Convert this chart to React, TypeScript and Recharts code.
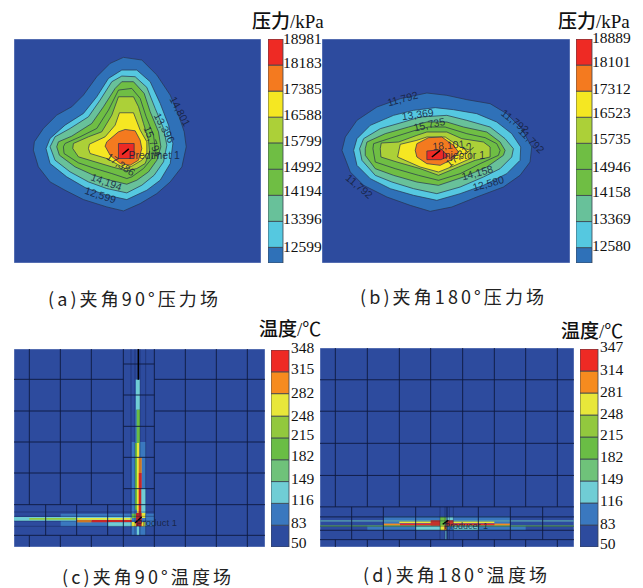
import React from "react";
import { ScatterChart, Scatter, XAxis, YAxis, BarChart, Bar } from "recharts";

type Pt = [number, number];
type Label = { x: number; y: number; text: string; angle: number; size?: number };

const pressureColors = ["#2f71b8", "#55c8e0", "#68c19a", "#6fbe44", "#6fbe44", "#acd038", "#f5e722", "#f47a1f", "#ee2a24"];
const tempColors = ["#2d4b9e", "#3a78bf", "#70cdd5", "#6fc27a", "#6abd45", "#92c83e", "#e8e73a", "#f68b1f", "#ee2a24"];
const BG = "#2d4b9e";

const ticksA = [12599, 13396, 14194, 14992, 15799, 16588, 17385, 18183, 18981];
const ticksB = [12580, 13369, 14158, 14946, 15735, 16523, 17312, 18101, 18889];
const ticksC = [50, 83, 116, 149, 182, 215, 248, 282, 315, 348];
const ticksD = [50, 83, 116, 149, 182, 215, 248, 281, 314, 347];
const nudgeA = [1, -1, -3, -1, 0, -1, -1, -1, 1];
const nudgeB = [0, -1, -2, -1, -3, -3, -1, -2, 0];
const nudgeC = [-3, -1, -2, -1, -2, -1, 1, 1, -1, -1];
const nudgeD = [-2, 0, -1, -1, -1, -1, 0, 0, 0, -1];

const contoursA: Pt[][] = [
  [[100,450],[103,425],[130,385],[170,345],[215,320],[250,285],[290,230],[330,190],[370,172],[425,180],[470,225],[510,285],[535,345],[552,395],[558,440],[545,500],[510,545],[470,580],[420,610],[370,632],[320,620],[250,598],[195,570],[150,545],[115,500]],
  [[138,445],[150,415],[195,375],[250,340],[290,290],[325,235],[365,210],[410,210],[450,245],[480,310],[505,375],[518,430],[510,490],[480,540],[440,570],[380,598],[320,585],[255,562],[200,530],[150,490]],
  [[150,440],[165,410],[210,385],[265,350],[300,300],[335,245],[365,228],[405,230],[440,262],[465,325],[490,385],[500,435],[490,485],[462,525],[425,555],[380,578],[320,565],[265,545],[210,515],[165,480]],
  [[170,440],[175,425],[215,408],[275,370],[310,320],[345,265],[365,245],[400,245],[432,280],[450,335],[475,395],[482,440],[470,480],[445,515],[410,540],[380,552],[330,540],[280,525],[225,500],[178,465]],
  [[190,440],[195,430],[240,410],[290,385],[325,330],[355,270],[395,265],[420,295],[438,350],[460,405],[465,445],[455,475],[430,505],[395,530],[380,535],[335,520],[285,505],[235,488],[192,460]],
  [[218,445],[220,430],[265,410],[305,395],[335,345],[355,290],[400,290],[415,320],[430,370],[445,420],[448,455],[435,490],[410,505],[380,512],[335,500],[285,485],[235,470]],
  [[265,445],[268,432],[315,410],[345,375],[358,338],[400,338],[420,390],[440,425],[440,460],[425,480],[395,498],[375,505],[320,475],[270,460]],
  [[315,438],[320,425],[355,395],[375,388],[405,392],[420,420],[425,445],[415,480],[390,495],[360,490],[330,465]],
  [[355,430],[402,430],[402,475],[355,475]],
];
const wellA: number[][] = [[366,463,386,446]];
const contourLabelsA: Label[] = [
  { x: 537, y: 335, text: "14,801", angle: 62 },
  { x: 490, y: 385, text: "13,396", angle: 62 },
  { x: 455, y: 425, text: "15,794", angle: 68 },
  { x: 360, y: 495, text: "17,386", angle: 35 },
  { x: 318, y: 548, text: "14,194", angle: 20 },
  { x: 300, y: 587, text: "12,599", angle: 18 },
  { x: 462, y: 467, text: "Predtmet 1", angle: 0, size: 10.5 },
];
const contoursB: Pt[][] = [
  [[65,450],[75,410],[110,360],[170,320],[240,295],[320,278],[380,285],[440,298],[510,310],[560,340],[605,385],[635,440],[630,485],[600,525],[550,560],[470,590],[395,620],[330,633],[270,615],[200,590],[130,555],[90,515]],
  [[100,450],[110,415],[150,375],[220,345],[280,330],[345,322],[400,328],[470,340],[530,365],[575,400],[602,440],[600,480],[560,520],[490,555],[420,580],[350,600],[280,585],[210,565],[150,535],[110,495]],
  [[118,445],[130,415],[180,385],[250,365],[300,350],[380,345],[440,360],[510,380],[555,415],[580,445],[575,470],[540,505],[490,530],[420,560],[350,580],[280,565],[215,545],[165,525],[125,480]],
  [[135,445],[140,425],[195,400],[265,380],[320,365],[380,365],[430,380],[500,395],[540,425],[555,450],[550,465],[500,500],[430,530],[355,555],[290,545],[220,525],[165,505],[135,465]],
  [[158,445],[160,430],[215,412],[285,390],[325,380],[375,380],[440,400],[495,412],[530,430],[540,450],[535,465],[480,490],[420,520],[355,540],[295,525],[225,505],[165,485]],
  [[180,445],[183,428],[235,425],[290,405],[320,395],[380,395],[425,415],[490,425],[510,440],[510,470],[465,480],[415,500],[355,525],[300,505],[230,485],[182,470]],
  [[232,470],[240,432],[290,420],[320,410],[375,410],[420,440],[450,450],[450,475],[405,495],[355,515],[300,500]],
  [[285,450],[290,430],[325,412],[365,410],[400,435],[415,455],[400,475],[360,495],[320,490],[290,470]],
  [[320,452],[365,448],[385,468],[362,478],[320,478]],
];
const wellB: number[][] = [[335,470,360,450]];
const contourLabelsB: Label[] = [
  { x: 248, y: 298, text: "11,792", angle: -15 },
  { x: 293, y: 345, text: "13,369", angle: -8 },
  { x: 328, y: 375, text: "15,735", angle: -12 },
  { x: 385, y: 437, text: "18,101", angle: -5 },
  { x: 420, y: 465, text: "17,312", angle: -40 },
  { x: 472, y: 520, text: "14,158", angle: -15 },
  { x: 505, y: 552, text: "12,580", angle: -15 },
  { x: 583, y: 365, text: "11,792", angle: 38 },
  { x: 632, y: 422, text: "11,792", angle: 45 },
  { x: 115, y: 560, text: "11,792", angle: 40 },
  { x: 430, y: 467, text: "Injector 1", angle: 0, size: 10.5 },
];

// [x1, y1, x2, y2, color]
type Cell = [number, number, number, number, string];
const fieldsC: Cell[] = [
  [395,397,437,677,"#3a78bf"],[405,210,420,397,"#3a78bf"],[408,210,420,300,"#70cdd5"],[410,300,420,400,"#6abd45"],
  [405,400,411,600,"#6abd45"],[411,400,418,620,"#e8e73a"],[416,443,425,490,"#f68b1f"],[416,490,425,625,"#ee2a24"],
  [424,537,437,610,"#70cdd5"],[182,612,395,650,"#3a78bf"],[42,622,395,634,"#70cdd5"],[88,625,230,630,"#92c83e"],[230,625,395,630,"#e8e73a"],
  [230,631,275,638,"#f68b1f"],[275,631,395,638,"#ee2a24"],[323,638,395,650,"#70cdd5"],[395,612,410,625,"#6abd45"],
  [423,610,437,625,"#e8e73a"],[395,637,410,650,"#e8e73a"],[423,637,437,650,"#e8e73a"],[408,610,425,650,"#b5242a"],
  [411,650,417,677,"#70cdd5"],[437,612,463,650,"#3a78bf"],
];
const gridC: number[][] = [
  [88,118,88,585],[181,118,181,585],[274,118,274,585],[88,677,88,712],[181,677,181,712],[274,677,274,712],
  [370,118,370,712],[463,118,463,712],[556,118,556,712],[649,118,649,712],[742,118,742,712],
  [137,585,137,677],[230,585,230,677],[323,585,323,677],
  [42,209,370,209],[463,209,795,209],[42,304,370,304],[463,304,795,304],[42,397,370,397],[463,397,795,397],[42,490,370,490],[463,490,795,490],
  [370,163,463,163],[370,256,463,256],[370,350,463,350],[370,443,463,443],[370,537,463,537],
  [42,585,795,585],[42,677,795,677],
];
const fineC: number[][] = [
  [42,607,463,607],[42,620,463,620],[42,634,463,634],[42,650,463,650],
  [393,118,393,677],[405,118,405,677],[420,118,420,677],[437,118,437,677],
];
const thickC: number[][] = [[415,118,415,210],[405,640,425,622]];
const textC: Label[] = [{ x: 470, y: 640, text: "Product 1", angle: 0, size: 9.5 }];

const fieldsD: Cell[] = [
  [190,618,570,660,"#3a78bf"],[142,646,190,660,"#3a78bf"],[571,646,617,660,"#3a78bf"],[360,620,400,632,"#70cdd5"],
  [0,630,762,634,"#70cdd5"],[238,634,523,638,"#e8e73a"],[190,640,240,646,"#f68b1f"],[523,640,570,646,"#f68b1f"],
  [240,640,523,646,"#ee2a24"],[0,646,762,649,"#6abd45"],[287,649,360,660,"#70cdd5"],[400,649,475,660,"#70cdd5"],
  [332,630,400,646,"#c4332a"],[360,620,378,660,"#6abd45"],[362,646,376,660,"#e8e73a"],[372,646,380,660,"#f68b1f"],[376,660,380,688,"#70cdd5"],
];
const gridD: number[][] = [
  [46,115,46,590],[142,115,142,590],[238,115,238,590],[332,115,332,590],[428,115,428,590],[523,115,523,590],[617,115,617,590],[712,115,712,590],
  [46,688,46,710],[142,688,142,710],[238,688,238,710],[332,688,332,710],[428,688,428,710],[523,688,523,710],[617,688,617,710],[712,688,712,710],
  [95,590,95,688],[190,590,190,688],[287,590,287,688],[381,590,381,688],[475,590,475,688],[571,590,571,688],[668,590,668,688],
  [0,210,762,210],[0,304,762,304],[0,400,762,400],[0,496,762,496],[0,590,762,590],
  [0,620,762,620],[0,660,762,660],[0,688,762,688],
];
const fineD: number[][] = [
  [360,590,360,688],[375,590,375,688],[388,590,388,688],[400,590,400,688],[0,632,762,632],[0,648,762,648],
];
const thickD: number[][] = [[368,642,385,630]];
const textD: Label[] = [{ x: 438, y: 650, text: "Producer 1", angle: 0, size: 9 }];

const toPts = (p: Pt[]) => p.map(([x, y]) => ({ x, y }));
const segPts = (s: number[][]) => s.flatMap(([a, b, c, d]) => [{ x: a, y: b }, { x: c, y: d }]);
const cellPts = (c: Cell) => toPts([[c[0], c[1]], [c[2], c[1]], [c[2], c[3]], [c[0], c[3]]]);
const noDot = () => <g />;

const polygonLine = (fill: string, stroke: string) => (p: any) => (
  <polygon points={p.points.map((q: any) => `${q.x},${q.y}`).join(" ")} fill={fill} stroke={stroke} strokeWidth={0.7} />
);
const segmentLine = (stroke: string, width: number, opacity = 1) => (p: any) => {
  let d = "";
  p.points.forEach((q: any, i: number) => { d += `${i % 2 ? "L" : "M"}${q.x} ${q.y}`; });
  return <path d={d} stroke={stroke} strokeWidth={width} strokeOpacity={opacity} fill="none" />;
};
const labelShape = (p: any) => {
  const { cx, cy, payload } = p;
  return (
    <text x={cx} y={cy} transform={`rotate(${payload.angle} ${cx} ${cy})`} textAnchor="middle" dominantBaseline="middle"
      fontFamily="Liberation Sans" fontSize={payload.size ?? 10.5} fill="#15203a" fillOpacity={0.85}>
      {payload.text}
    </text>
  );
};

function Field({ left, top, width, height, dom, contours, colors, labels, fields, grid, fine, thick }: any) {
  return (
    <div style={{ position: "absolute", left, top }}>
      <ScatterChart width={width} height={height} margin={{ top: 0, right: 0, bottom: 0, left: 0 }}>
        <XAxis type="number" dataKey="x" domain={[dom[0], dom[1]]} hide />
        <YAxis type="number" dataKey="y" domain={[dom[2], dom[3]]} reversed hide />
        <Scatter data={toPts([[dom[0], dom[2]], [dom[1], dom[2]], [dom[1], dom[3]], [dom[0], dom[3]]])} line={polygonLine(BG, "#9fb0d4")} shape={noDot} isAnimationActive={false} />
        {(contours || []).map((c: Pt[], i: number) => (
          <Scatter key={i} data={toPts(c)} line={polygonLine(colors[i], "#26344f")} shape={noDot} isAnimationActive={false} />
        ))}
        {(fields || []).map((c: Cell, i: number) => (
          <Scatter key={"f" + i} data={cellPts(c)} line={polygonLine(c[4], "none")} shape={noDot} isAnimationActive={false} />
        ))}
        {fine && <Scatter data={segPts(fine)} line={segmentLine("#0f1a40", 0.9, 0.4)} shape={noDot} isAnimationActive={false} />}
        {grid && <Scatter data={segPts(grid)} line={segmentLine("#0f1a40", 0.9)} shape={noDot} isAnimationActive={false} />}
        {thick && <Scatter data={segPts(thick)} line={segmentLine("#000", 1.5)} shape={noDot} isAnimationActive={false} />}
        <Scatter data={labels} shape={labelShape} isAnimationActive={false} />
      </ScatterChart>
    </div>
  );
}

function ColorBar({ left, top, barW, height, ticks, min, colors, nudges, labelW, dx = 0 }: any) {
  const tops: number[] = ticks.filter((t: number) => t > min);
  const row: any = { name: "scale" };
  tops.forEach((t, i) => { row["b" + i] = t - (i ? tops[i - 1] : 0); });
  const pad = 10;
  return (
    <div style={{ position: "absolute", left, top: top - pad }}>
      <BarChart width={barW + labelW} height={height + pad * 2} data={[row]} barCategoryGap={0} margin={{ top: pad, right: 0, bottom: pad, left: 0 }}>
        <XAxis dataKey="name" hide />
        <YAxis orientation="right" width={labelW} type="number" domain={[min, ticks[ticks.length - 1]]} ticks={ticks} interval={0} allowDataOverflow axisLine={false} tickLine={false}
          tick={(p: any) => (
            <text x={p.x - 6 + dx} y={p.y + (nudges[p.index] ?? 0)} dominantBaseline="middle" fontFamily="Liberation Serif" fontSize={15.5} fill="#111">
              {p.payload.value}
            </text>
          )} />
        {tops.map((_, i) => (
          <Bar key={i} dataKey={"b" + i} stackId="s" fill={colors[i]} stroke="#3a4250" strokeWidth={0.8} isAnimationActive={false} />
        ))}
      </BarChart>
    </div>
  );
}

const Title = ({ left, top, unit, cjk }: any) => (
  <div style={{ position: "absolute", left, top, whiteSpace: "nowrap", fontSize: 19, lineHeight: "18px", color: "#111", fontFamily: "'Liberation Serif','Noto Sans CJK SC'" }}>
    <span style={{ fontFamily: "'Noto Sans CJK SC'", fontWeight: 500 }}>{cjk}</span>{unit}
  </div>
);
const Caption = ({ left, top, text }: any) => (
  <div style={{ position: "absolute", left, top, whiteSpace: "nowrap", fontSize: 18, letterSpacing: 3.1, lineHeight: "20px", color: "#222", fontFamily: "'Noto Sans CJK SC','Noto Sans'" }}>
    {text}
  </div>
);

export default function App() {
  return (
    <div style={{ position: "absolute", left: 0, top: 0, width: 643, height: 588, background: "#fff", overflow: "hidden" }}>
      <Field left={14} top={39} width={247} height={224} dom={[42, 782, 117, 788]} contours={contoursA} colors={pressureColors} labels={contourLabelsA} thick={wellA} />
      <ColorBar left={268} top={39} barW={15} labelW={50} height={224} ticks={ticksA} min={12120} colors={pressureColors} nudges={nudgeA} dx={-2} />
      <Title left={252} top={11} cjk="压力" unit="/kPa" />
      <Caption left={48} top={288} text="(a)夹角90°压力场" />

      <Field left={322} top={39} width={248} height={224} dom={[5, 750, 116, 788]} contours={contoursB} colors={pressureColors} labels={contourLabelsB} thick={wellB} />
      <ColorBar left={576} top={39} barW={16} labelW={50} height={224} ticks={ticksB} min={12115} colors={pressureColors} nudges={nudgeB} dx={-2} />
      <Title left={558} top={11} cjk="压力" unit="/kPa" />
      <Caption left={360} top={286} text="(b)夹角180°压力场" />

      <Field left={14} top={349} width={251} height={198} dom={[42, 795, 118, 712]} fields={fieldsC} grid={gridC} fine={fineC} thick={thickC} labels={textC} />
      <ColorBar left={271} top={350} barW={18} labelW={38} height={197} ticks={ticksC} min={50} colors={tempColors} nudges={nudgeC} />
      <Title left={259} top={319} cjk="温度" unit="/℃" />
      <Caption left={62} top={566} text="(c)夹角90°温度场" />

      <Field left={320} top={348} width={254} height={199} dom={[0, 762, 115, 710]} fields={fieldsD} grid={gridD} fine={fineD} thick={thickD} labels={textD} />
      <ColorBar left={580} top={349} barW={18} labelW={38} height={198} ticks={ticksD} min={50} colors={tempColors} nudges={nudgeD} />
      <Title left={561} top={321} cjk="温度" unit="/℃" />
      <Caption left={363} top={564} text="(d)夹角180°温度场" />
    </div>
  );
}
